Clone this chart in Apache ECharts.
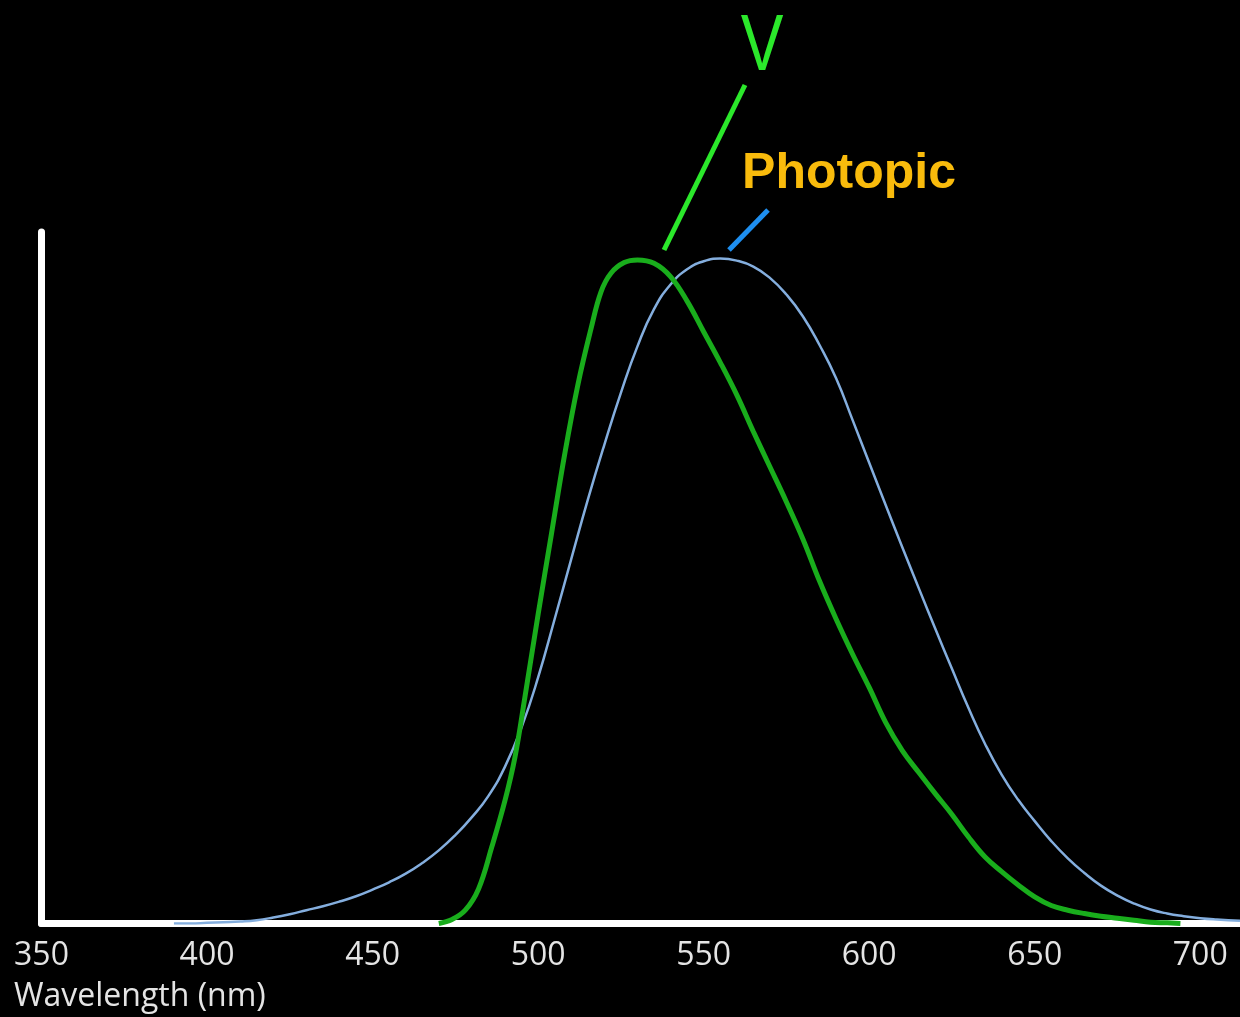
<!DOCTYPE html>
<html>
<head>
<meta charset="utf-8">
<title>Photopic sensitivity</title>
<script src="https://cdn.jsdelivr.net/npm/echarts@6/dist/echarts.min.js"></script>
<style>
  html, body { margin: 0; padding: 0; background: #000; }
  #chart { width: 1240px; height: 1017px; }
</style>
</head>
<body>
<div id="chart"></div>
<script>
// Photopic luminosity curve (wavelength in nm, relative sensitivity)
const photopicWavelengths = [390, 395, 400, 405, 410, 415, 420, 425, 430, 435, 440, 445, 450, 455, 460, 465, 470, 475, 480, 485, 490, 495, 500, 505, 510, 515, 520, 525, 530, 535, 540, 545, 550, 555, 560, 565, 570, 575, 580, 585, 590, 595, 600, 605, 610, 615, 620, 625, 630, 635, 640, 645, 650, 655, 660, 665, 670, 675, 680, 685, 690, 695, 700, 705, 712];
const photopicValues = [0.000, 0.000, 0.001, 0.002, 0.003, 0.005, 0.009, 0.014, 0.020, 0.026, 0.033, 0.041, 0.051, 0.062, 0.075, 0.091, 0.110, 0.133, 0.160, 0.192, 0.236, 0.295, 0.370, 0.458, 0.548, 0.637, 0.720, 0.798, 0.868, 0.924, 0.961, 0.984, 0.996, 1.000, 0.997, 0.988, 0.971, 0.946, 0.913, 0.870, 0.820, 0.757, 0.693, 0.629, 0.566, 0.504, 0.443, 0.383, 0.324, 0.270, 0.224, 0.186, 0.154, 0.124, 0.098, 0.076, 0.057, 0.042, 0.030, 0.021, 0.015, 0.011, 0.008, 0.006, 0.004];

// "V" response curve
const vWavelengths = [470, 474, 478, 482, 486, 490, 493, 496, 500, 504, 508, 512, 516, 519, 522, 526, 530, 535, 540, 545, 550, 555, 560, 565, 570, 575, 580, 585, 590, 595, 600, 605, 610, 615, 620, 625, 630, 635, 640, 645, 650, 655, 660, 665, 670, 675, 680, 685, 690, 694];
const vValues = [0.000, 0.006, 0.020, 0.052, 0.115, 0.185, 0.250, 0.340, 0.465, 0.585, 0.705, 0.810, 0.895, 0.950, 0.978, 0.994, 0.998, 0.993, 0.973, 0.936, 0.890, 0.844, 0.795, 0.740, 0.687, 0.634, 0.578, 0.515, 0.458, 0.405, 0.355, 0.302, 0.260, 0.227, 0.195, 0.164, 0.130, 0.100, 0.078, 0.058, 0.040, 0.027, 0.020, 0.015, 0.011, 0.008, 0.005, 0.002, 0.001, 0.000];

// Axis ticks
const xTicks = [350, 400, 450, 500, 550, 600, 650, 700];
const xMin = 350, xMax = 712, xStep = 50;

const pairs = (xs, ys) => xs.map((x, i) => [x, ys[i]]);

const chart = echarts.init(document.getElementById('chart'), null, { renderer: 'canvas' });

chart.setOption({
  backgroundColor: '#000',
  animation: false,
  grid: { left: 41.5, right: 0, top: 232, bottom: 93.5, containLabel: false },
  xAxis: {
    type: 'value',
    min: xMin,
    max: xMax,
    interval: xStep,
    axisLine: { show: true, lineStyle: { color: '#ffffff', width: 7 } },
    axisTick: { show: false },
    splitLine: { show: false },
    axisLabel: {
      color: '#e4e4e4',
      fontFamily: 'Open Sans',
      fontSize: 32,
      margin: 16,
      showMaxLabel: false,
      formatter: v => (xTicks.indexOf(v) >= 0 ? String(v) : '')
    }
  },
  yAxis: {
    type: 'value',
    min: 0,
    max: 1.04,
    axisLine: { show: true, lineStyle: { color: '#ffffff', width: 7 } },
    axisTick: { show: false },
    axisLabel: { show: false },
    splitLine: { show: false }
  },
  series: [
    {
      name: 'Photopic',
      type: 'line',
      data: pairs(photopicWavelengths, photopicValues),
      smooth: 0.5,
      showSymbol: false,
      lineStyle: { color: '#84aede', width: 2.5 },
      z: 3
    },
    {
      name: 'V',
      type: 'line',
      data: pairs(vWavelengths, vValues),
      smooth: 0.4,
      showSymbol: false,
      lineStyle: { color: '#19ad1c', width: 5 },
      z: 4
    }
  ],
  graphic: [
    {
      type: 'text',
      left: 14,
      top: 981,
      style: { text: 'Wavelength (nm)', fill: '#e4e4e4', font: '32px "Open Sans"' }
    },
    {
      type: 'text',
      x: 762,
      y: 48,
      scaleX: 0.8,
      style: {
        text: 'V',
        fill: '#2be82b',
        font: '80px "Liberation Sans"',
        align: 'center',
        verticalAlign: 'middle'
      }
    },
    {
      type: 'line',
      shape: { x1: 745, y1: 85, x2: 664, y2: 250 },
      style: { stroke: '#2be82b', lineWidth: 5 }
    },
    {
      type: 'text',
      x: 849,
      y: 174,
      style: {
        text: 'Photopic',
        fill: '#f9bb0c',
        font: 'bold 50px "Liberation Sans"',
        align: 'center',
        verticalAlign: 'middle'
      }
    },
    {
      type: 'line',
      shape: { x1: 768, y1: 210, x2: 729, y2: 250 },
      style: { stroke: '#1e8ff0', lineWidth: 5 }
    }
  ]
});
</script>
</body>
</html>
